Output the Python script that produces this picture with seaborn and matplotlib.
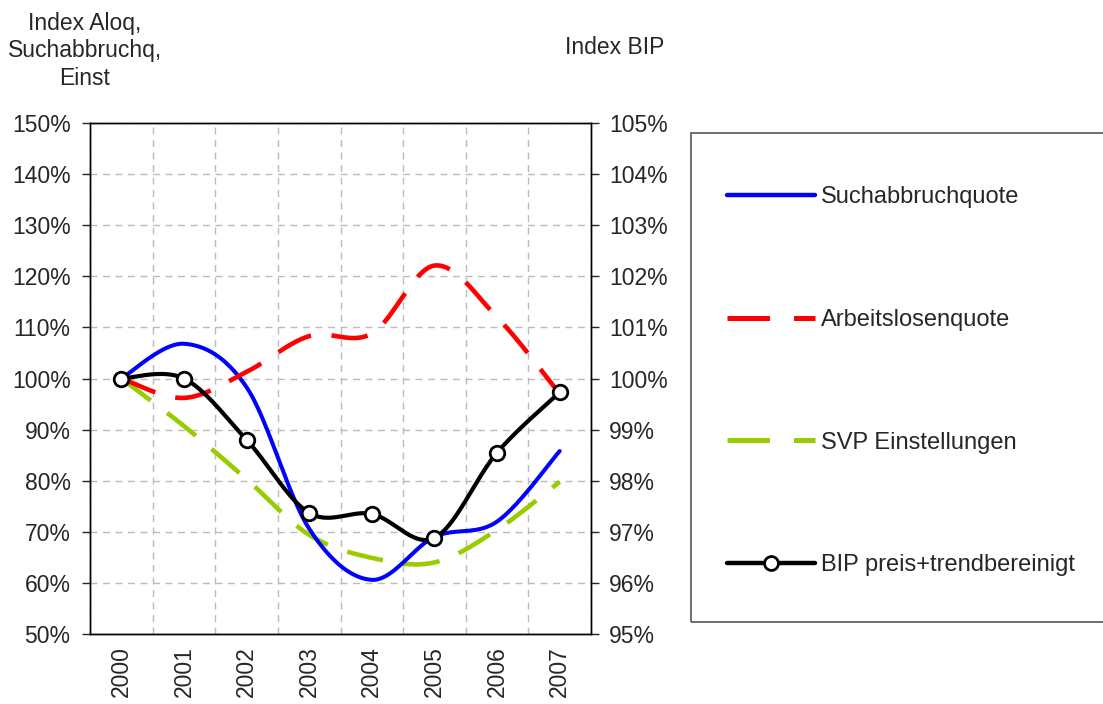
import numpy as np
import pandas as pd
import matplotlib
matplotlib.use("Agg")
import matplotlib.pyplot as plt
import seaborn as sns
from matplotlib.lines import Line2D
from matplotlib.patches import Rectangle
from matplotlib.ticker import PercentFormatter, FixedLocator

# --- data (index values, 2000 = 100%) ---
years = ["2000", "2001", "2002", "2003", "2004", "2005", "2006", "2007"]
suchabbruch = [1.00, 1.068, 0.983, 0.706, 0.606, 0.690, 0.720, 0.858]
arbeitslosen = [1.00, 0.962, 1.013, 1.083, 1.088, 1.221, 1.120, 0.970]
svp_einst = [1.00, 0.907, 0.803, 0.694, 0.649, 0.640, 0.704, 0.798]
bip = [1.000, 1.000, 0.988, 0.9737, 0.9735, 0.9688, 0.9855, 0.9973]

sns.set_style("white")
plt.rcParams["font.family"] = ["Liberation Sans", "DejaVu Sans"]
FS = 16.5


def smooth(y, n=40):
    # Excel style smoothed line (Bezier through the points, tension 1/6)
    x = np.arange(len(y), dtype=float)
    y = np.asarray(y, dtype=float)
    px = np.concatenate([[x[0]], x, [x[-1]]])
    py = np.concatenate([[y[0]], y, [y[-1]]])
    t = np.linspace(0, 1, n)
    xs, ys = [], []
    for i in range(len(y) - 1):
        p0, p1, p2, p3 = [np.array([px[i + k], py[i + k]]) for k in range(4)]
        c1 = p1 + (p2 - p0) / 6
        c2 = p2 - (p3 - p1) / 6
        b = (np.outer((1 - t) ** 3, p1) + np.outer(3 * (1 - t) ** 2 * t, c1)
             + np.outer(3 * (1 - t) * t ** 2, c2) + np.outer(t ** 3, p2))
        xs.append(b[:, 0])
        ys.append(b[:, 1])
    return pd.DataFrame({"x": np.concatenate(xs), "y": np.concatenate(ys)})


fig = plt.figure(figsize=(11.03, 7.04), dpi=100)
ax = fig.add_axes([90 / 1103, 1 - 634 / 704, 501 / 1103, 511 / 704])
ax2 = ax.twinx()

dash = (0, (8, 4.5))
series = [
    (svp_einst, "#99CC00", 3.3, dash),
    (suchabbruch, "#0000FF", 2.9, "-"),
    (arbeitslosen, "#FF0000", 3.3, dash),
]
for vals, col, lw, ls in series:
    d = smooth(vals)
    sns.lineplot(data=d, x="x", y="y", ax=ax, color=col, linewidth=lw, sort=False, estimator=None)
    ax.lines[-1].set_linestyle(ls)
    ax.lines[-1].set_dash_capstyle("butt")

d = smooth(bip)
sns.lineplot(data=d, x="x", y="y", ax=ax2, color="black", linewidth=3.0, sort=False, estimator=None)
sns.scatterplot(x=np.arange(len(bip)), y=bip, ax=ax2, s=110, color="white",
                edgecolor="black", linewidth=2, zorder=5)

# axes setup
ax.set_xlim(-0.5, len(years) - 0.5)
ax.set_ylim(0.5, 1.5)
ax2.set_ylim(0.95, 1.05)
ax.set_yticks(np.arange(0.5, 1.51, 0.1))
ax2.set_yticks(np.arange(0.95, 1.051, 0.01))
ax.yaxis.set_major_formatter(PercentFormatter(1.0, decimals=0))
ax2.yaxis.set_major_formatter(PercentFormatter(1.0, decimals=0))

ax.set_xticks(range(len(years)))
ax.set_xticklabels(years, rotation=90, fontsize=FS)
ax.xaxis.set_minor_locator(FixedLocator(np.arange(-0.5, len(years), 1.0)))
ax.tick_params(axis="x", which="major", length=0, pad=9)
ax.tick_params(axis="x", which="minor", length=6, width=1, direction="out", color="#333333")
ax.tick_params(axis="y", length=6, width=1, direction="out", labelsize=FS, pad=8)
ax2.tick_params(axis="y", length=6, width=1, direction="out", labelsize=FS, pad=7)
for a in (ax, ax2):
    a.set_xlabel("")
    a.set_ylabel("")
    for s in a.spines.values():
        s.set_color("black")
        s.set_linewidth(1)

ax.grid(True, axis="y", which="major", color="#BBBBBB", linestyle=(0, (5, 4)), linewidth=1)
ax.grid(True, axis="x", which="minor", color="#BBBBBB", linestyle=(0, (5, 4)), linewidth=1)
ax.set_axisbelow(True)

# axis titles
fig.text(85 / 1103, 1 - 12 / 704, "Index Aloq,\nSuchabbruchq,\nEinst", ha="center", va="top",
         fontsize=FS, linespacing=1.25)
fig.text(615 / 1103, 1 - 47 / 704, "Index BIP", ha="center", va="center", fontsize=FS)

# legend
fig.add_artist(Rectangle((691 / 1103, 1 - 622 / 704), (1110 - 691) / 1103, (622 - 133) / 704,
                         transform=fig.transFigure, fill=False, edgecolor="#555555", lw=1.2))
handles = [
    Line2D([], [], color="#0000FF", lw=3.2, solid_capstyle="round"),
    Line2D([], [], color="#FF0000", lw=3.6, linestyle=(0, (8.5, 4.8))),
    Line2D([], [], color="#99CC00", lw=3.6, linestyle=(0, (8.5, 4.8))),
    Line2D([], [], color="black", lw=3.2, marker="o", markersize=10, markerfacecolor="white",
           markeredgecolor="black", markeredgewidth=2, markevery=[1]),
]
labels = ["Suchabbruchquote", "Arbeitslosenquote", "SVP Einstellungen", "BIP preis+trendbereinigt"]
handles[3].set_data([0, 1, 2], [0, 0, 0])
LFS = 17
fig.legend(handles, labels, loc="upper left", bbox_to_anchor=(727 / 1103, 1 - 186 / 704),
           frameon=False, fontsize=LFS, handlelength=3.73, handletextpad=0.25,
           labelspacing=4.27, borderpad=0, borderaxespad=0)

fig.savefig("out.png", dpi=100)
